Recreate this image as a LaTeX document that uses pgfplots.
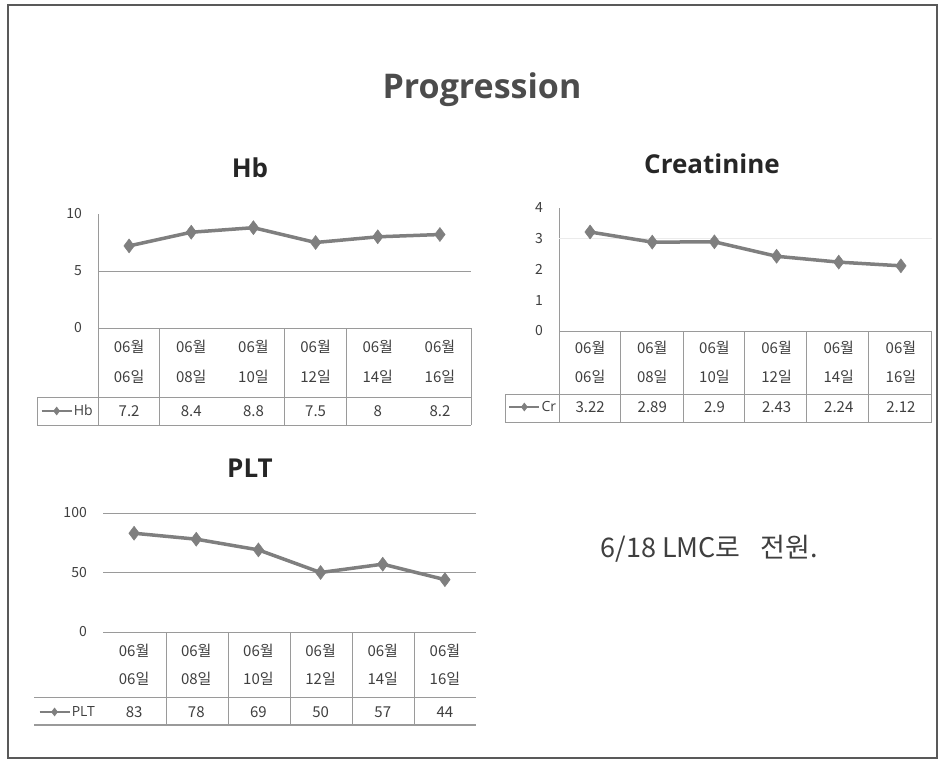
\documentclass[border=0pt]{standalone}
\usepackage{pgfplots}
\pgfplotsset{compat=1.18}
\usepackage{fontspec}
\setmainfont{Open Sans}
\newfontfamily\cjk{Noto Sans CJK KR}
\definecolor{ln}{HTML}{7F7F7F}
\definecolor{txt}{HTML}{3F3F3F}
\definecolor{tbl}{HTML}{9A9A9A}
\pgfplotsset{
  panel/.style={
    scale only axis, width=373pt,
    xmin=-0.5, xmax=5.5, ymin=0,
    xtick={0,...,5},
    xticklabels={{06월\\06일},{06월\\08일},{06월\\10일},{06월\\12일},{06월\\14일},{06월\\16일}},
    xticklabel style={align=center, anchor=north, inner sep=0pt, text=txt},
    yticklabel style={anchor=east, inner sep=0pt, xshift=-16pt, font=\cjk\fontsize{14}{16}\selectfont, text=txt},
    major tick length=0pt,
    axis x line*=bottom, axis y line*=left,
    axis line style={tbl, line width=1pt},
    clip=false,
    /pgf/number format/assume math mode=true,
    legend style={draw=none, fill=none, inner sep=0pt, font=\fontsize{14}{16}\selectfont, text=txt, anchor=west, nodes={inner sep=1pt}},
    legend image code/.code={\draw[mark repeat=2,mark phase=2,#1] plot coordinates {(0pt,0pt)(15pt,0pt)(30pt,0pt)};},
    legend image post style={mark size=4pt, line width=2.5pt},
  },
  series/.style={ln, line width=3.5pt, mark=diamond*, mark size=7pt, mark options={solid, fill=ln, line width=0.5pt}},
}
\begin{document}
\begin{tikzpicture}
\path (0pt,0pt) rectangle (945pt,-760pt);
\draw[line width=2pt, color=black!65] (8pt,-5pt) rectangle (937pt,-758pt);
% titles
\node[anchor=base, font=\bfseries\fontsize{34}{40}\selectfont, text=black!70] at (482pt,-98pt) {Progression};
\node[anchor=base, font=\bfseries\fontsize{26}{30}\selectfont, text=black!85] at (250pt,-177pt) {Hb};
\node[anchor=base, font=\bfseries\fontsize{26}{30}\selectfont, text=black!85] at (712pt,-173pt) {Creatinine};
\node[anchor=base, font=\bfseries\fontsize{26}{30}\selectfont, text=black!85] at (250pt,-477pt) {PLT};
\node[anchor=base west, font=\cjk\fontsize{27}{30}\selectfont, text=txt] at (597pt,-557pt) {6/18 LMC로\hspace{20pt}전원.};

% ---------- Hb ----------
\begin{axis}[panel, at={(98pt,-328pt)}, anchor=south west, height=114pt, ymax=10, ytick={0,5,10},
  extra y ticks={5}, extra y tick labels={}, extra y tick style={grid=major, major grid style={tbl, line width=1pt}},
  xticklabel style={yshift=-12pt, font=\cjk\fontsize{15}{30}\selectfont},
  legend style={at={(axis description cs:-0.155,-0.728)}}]
\addplot[series] coordinates {(0,7.2)(1,8.4)(2,8.8)(3,7.5)(4,8)(5,8.2)};
\addlegendentry{Hb}
\end{axis}
\begin{scope}[tbl, line width=1pt]
\draw (37pt,-397pt) -- (471pt,-397pt);
\draw (37pt,-425pt) -- (471pt,-425pt);
\draw (37pt,-397pt) -- (37pt,-425pt);
\foreach \x in {98,159,284,346,471} \draw (\x pt,-328pt) -- (\x pt,-425pt);
\end{scope}
\foreach \v [count=\i from 0] in {7.2,8.4,8.8,7.5,8,8.2}
  \node[font=\cjk\fontsize{15}{16}\selectfont, text=txt] at ({(129.1+62.17*\i)*1pt},-411pt) {\v};

% ---------- Creatinine ----------
\begin{axis}[panel, at={(559pt,-331pt)}, anchor=south west, height=123pt, ymax=4, ytick={0,1,2,3,4},
  extra y ticks={3}, extra y tick labels={}, extra y tick style={grid=major, major grid style={black!8, line width=1pt}},
  xticklabel style={yshift=-10pt, font=\cjk\fontsize{15}{29}\selectfont},
  legend style={at={(axis description cs:-0.137,-0.618)}}]
\addplot[series] coordinates {(0,3.22)(1,2.89)(2,2.9)(3,2.43)(4,2.24)(5,2.12)};
\addlegendentry{Cr}
\end{axis}
\begin{scope}[tbl, line width=1pt]
\draw (505pt,-394pt) -- (932pt,-394pt);
\draw (505pt,-422pt) -- (932pt,-422pt);
\draw (505pt,-394pt) -- (505pt,-422pt);
\foreach \x in {559,620,683,744,806,868,931} \draw (\x pt,-331pt) -- (\x pt,-422pt);
\end{scope}
\foreach \v [count=\i from 0] in {3.22,2.89,2.9,2.43,2.24,2.12}
  \node[font=\cjk\fontsize{15}{16}\selectfont, text=txt] at ({(590.1+62.17*\i)*1pt},-407pt) {\v};

% ---------- PLT ----------
\begin{axis}[panel, at={(103pt,-632pt)}, anchor=south west, height=119pt, ymax=100, ytick={0,50,100},
  ymajorgrids, major grid style={tbl, line width=1pt}, y axis line style={draw=none},
  xticklabel style={yshift=-12pt, font=\cjk\fontsize{15}{28}\selectfont},
  legend style={at={(axis description cs:-0.174,-0.672)}}]
\addplot[series] coordinates {(0,83)(1,78)(2,69)(3,50)(4,57)(5,44)};
\addlegendentry{PLT}
\end{axis}
\begin{scope}[tbl, line width=1pt]
\draw (34pt,-697pt) -- (476pt,-697pt);
\draw[line width=1.5pt] (34pt,-725pt) -- (476pt,-725pt);
\foreach \x in {166,228,290,352,414} \draw (\x pt,-632pt) -- (\x pt,-725pt);
\end{scope}
\foreach \v [count=\i from 0] in {83,78,69,50,57,44}
  \node[font=\cjk\fontsize{15}{16}\selectfont, text=txt] at ({(134.1+62.17*\i)*1pt},-712pt) {\v};
\end{tikzpicture}
\end{document}
